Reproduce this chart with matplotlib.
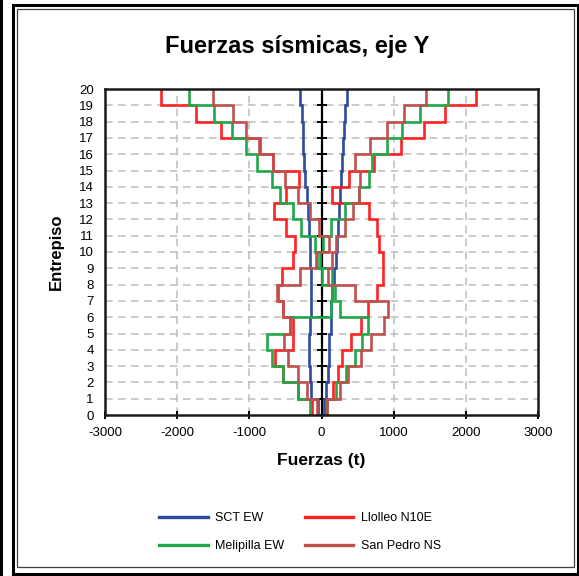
import numpy as np
import matplotlib
matplotlib.use("Agg")
import matplotlib.pyplot as plt
from matplotlib.patches import Rectangle
from matplotlib.lines import Line2D

plt.rcParams['font.family'] = ['Liberation Sans', 'DejaVu Sans']
plt.rcParams['axes.unicode_minus'] = False

# Story levels and envelope forces per story (stories 1..20), tonnes
levels = np.arange(0, 21)
stories = np.arange(1, 21)

sct_neg = [-55, -140, -160, -170, -175, -165, -150, -140, -150, -155,
           -165, -175, -185, -203, -222, -236, -250, -259, -272, -300]
sct_pos = [32, 69, 85, 100, 110, 125, 135, 140, 180, 195,
           215, 230, 240, 263, 276, 290, 304, 318, 332, 359]

llo_neg = [-129, -332, -531, -646, -401, -392, -535, -600, -553, -392,
           -369, -487, -655, -494, -318, -669, -853, -1397, -1743, -2218]
llo_pos = [60, 161, 230, 285, 415, 544, 645, 774, 852, 852,
           793, 770, 654, 147, 382, 723, 1106, 1419, 1705, 2134]

mel_neg = [-162, -332, -531, -692, -761, -438, 138, 147, 0, -60,
           -90, -290, -395, -570, -683, -893, -1051, -1245, -1490, -1839]
mel_pos = [75, 207, 346, 461, 562, 645, 253, 184, 150, -20,
           20, 125, 320, 525, 665, 705, 905, 1110, 1360, 1751]

sp_neg = [-69, -194, -323, -461, -517, -438, -535, -620, -300, -79,
          105, -40, -162, -320, -508, -669, -865, -1050, -1231, -1507]
sp_pos = [83, 253, 368, 553, 691, 866, 921, 461, 92, 140,
          207, 322, 440, 520, 530, 461, 668, 908, 1138, 1443]

series = [
    ("SCT EW", "#2E4A9E", sct_neg, sct_pos),
    ("Llolleo N10E", "#FF2222", llo_neg, llo_pos),
    ("Melipilla EW", "#22A84A", mel_neg, mel_pos),
    ("San Pedro NS", "#C0504D", sp_neg, sp_pos),
]

W, H = 579, 576
fig = plt.figure(figsize=(W / 100, H / 100), dpi=100)

# chart frame (double border) and neighbouring chart edge
def px_rect(x0, y0, x1, y1, **kw):
    return Rectangle((x0 / W, 1 - y1 / H), (x1 - x0) / W, (y1 - y0) / H,
                     transform=fig.transFigure, fill=False, **kw)

fig.patches.append(Rectangle((0, 0), 3 / W, 1, transform=fig.transFigure,
                             color="black", lw=0))
fig.patches.append(px_rect(12.5, 5, 577.5, 573.5, ec="black", lw=2.2))
fig.patches.append(px_rect(16.5, 8.5, 574, 566.5, ec="#404040", lw=0.9))

ax = fig.add_axes([105 / W, 1 - 415 / H, (538 - 105) / W, (415 - 89) / H])

ys = np.repeat(levels, 2)[1:-1]
for name, color, neg, pos in series:
    for vals in (neg, pos):
        xs = np.repeat(vals, 2)
        ax.plot(xs, ys, color=color, lw=1.9, solid_joinstyle="miter")

# zero axis with cross ticks
ax.axvline(0, color="black", lw=1.6, zorder=1)
ax.plot(np.zeros(len(levels)), levels, ls="none", marker="_", ms=7,
        mew=1.4, color="black", zorder=1)

ax.set_xlim(-3000, 3000)
ax.set_ylim(0, 20)
ax.set_xticks(np.arange(-3000, 3001, 1000))
ax.set_yticks(levels)

# dashed grid
for x in (-2000, -1000, 1000, 2000):
    ax.axvline(x, color="#BDBDBD", lw=1.1, ls=(0, (5, 3.5)), zorder=0)
for y in levels[1:-1]:
    ax.axhline(y, color="#BDBDBD", lw=1.1, ls=(0, (5, 3.5)), zorder=0)

for s in ax.spines.values():
    s.set_linewidth(1.8)
    s.set_color("#1a1a1a")

ax.tick_params(axis="x", direction="inout", length=6, width=1.4,
               labelsize=9.5, pad=6)
ax.tick_params(axis="y", length=0, labelsize=9.5, pad=8)

ax.set_xlabel("Fuerzas (t)", fontsize=12.5, fontweight="bold", labelpad=10)
ax.set_ylabel("Entrepiso", fontsize=12, fontweight="bold", labelpad=11)

fig.text(297 / W, 1 - 46 / H, "Fuerzas sísmicas, eje Y", ha="center",
         va="center", fontsize=17, fontweight="bold")

handles = [Line2D([], [], color=c, lw=2.4) for _, c, _, _ in series]
labels = [n for n, _, _, _ in series]
order = [0, 2, 1, 3]
fig.legend([handles[i] for i in order], [labels[i] for i in order],
           ncol=2, loc="center", bbox_to_anchor=(300 / W, 1 - 532 / H),
           frameon=False, fontsize=9, handlelength=3.9, handletextpad=0.6,
           columnspacing=1.6, labelspacing=1.3)

fig.savefig("out.png", dpi=100)
